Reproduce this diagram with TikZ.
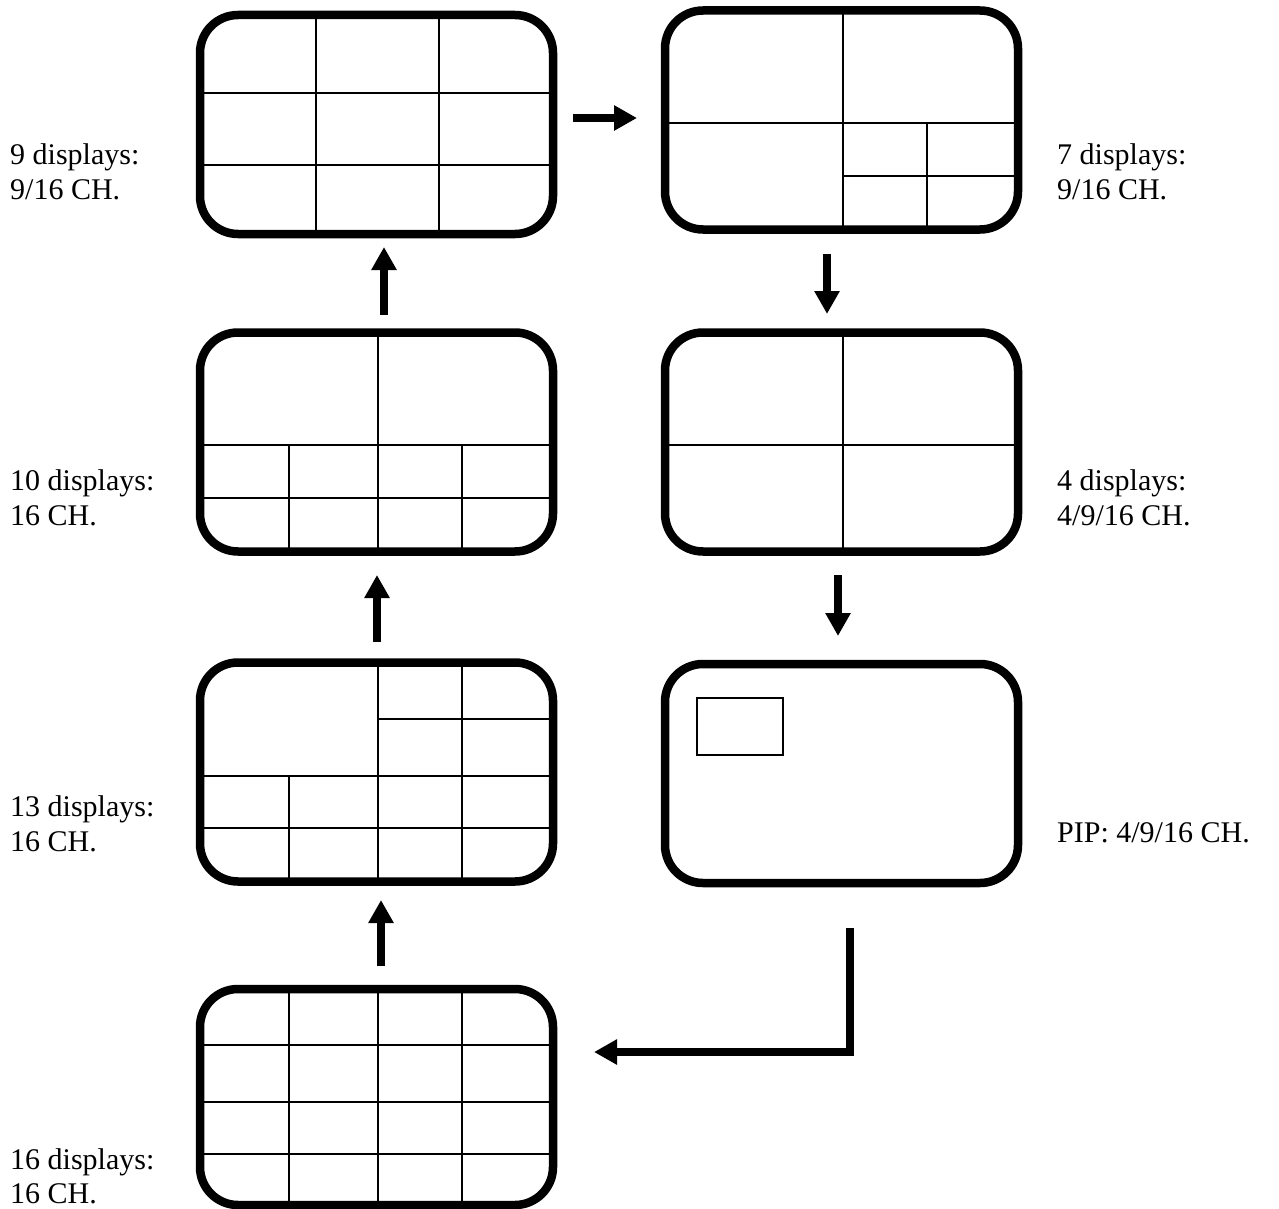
\documentclass[tikz,border=0pt]{standalone}
\usepackage{fontspec}
\setmainfont{Liberation Serif}
\usetikzlibrary{arrows.meta}
\begin{document}
\begin{tikzpicture}[x=1pt,y=-1pt,
  screen/.style={draw, line width=8.5pt, rounded corners=38pt, rectangle, inner sep=0pt,
    minimum width=353pt, minimum height=219pt},
  gridln/.style={line width=2pt},
  arr/.style={line width=8pt, -{Triangle[width=24pt,length=23pt]}},
  lbl/.style={anchor=base west, inner sep=0pt, font=\fontsize{30}{35}\selectfont}
]
\useasboundingbox (0,0) rectangle (1279,1209);

% grid lines
% S1: 9 displays
\draw[gridln] (316,15) -- (316,234) (439,15) -- (439,234) (200,93) -- (553,93) (200,165) -- (553,165);
% S2: 7 displays
\draw[gridln] (843,11) -- (843,229) (665,123) -- (1018,123) (927,123) -- (927,229) (843,176) -- (1018,176);
% S3: 10 displays
\draw[gridln] (378,333) -- (378,551) (200,445) -- (553,445) (200,498) -- (553,498)
  (289,445) -- (289,551) (462,445) -- (462,551);
% S4: 13 displays
\draw[gridln] (378,663) -- (378,881) (462,663) -- (462,881) (378,719) -- (553,719)
  (200,776) -- (553,776) (200,828) -- (553,828) (289,776) -- (289,881);
% S5: 16 displays
\draw[gridln] (289,989) -- (289,1205) (378,989) -- (378,1205) (462,989) -- (462,1205)
  (200,1045) -- (553,1045) (200,1102) -- (553,1102) (200,1154) -- (553,1154);
% S6: 4 displays
\draw[gridln] (843,333) -- (843,551) (665,445) -- (1018,445);
% S7: PIP
\draw[gridln] (697,698) rectangle (783,755);

% screens
\node[screen] (s1) at (376.5,124.5) {};
\node[screen] (s2) at (841.5,120) {};
\node[screen] (s3) at (376.5,442) {};
\node[screen] (s6) at (841.5,442) {};
\node[screen] (s4) at (376.5,772) {};
\node[screen] (s7) at (841.5,773.5) {};
\node[screen, minimum height=216pt] (s5) at (376.5,1097) {};

% arrow end points
\coordinate (a1s) at (573,118);  \coordinate (a1e) at (637,118);
\coordinate (a2s) at (384,315);  \coordinate (a2e) at (384,247);
\coordinate (a3s) at (377,642);  \coordinate (a3e) at (377,575);
\coordinate (a4s) at (381,966);  \coordinate (a4e) at (381,900);
\coordinate (a5s) at (827,254);  \coordinate (a5e) at (827,314);
\coordinate (a6s) at (838,575);  \coordinate (a6e) at (838,636);
\coordinate (l0) at (850,928);   \coordinate (l1) at (850,1052);  \coordinate (l2) at (594,1052);

\draw[arr] (a1s) -- (a1e);
\draw[arr] (a2s) -- (a2e);
\draw[arr] (a3s) -- (a3e);
\draw[arr] (a4s) -- (a4e);
\draw[arr] (a5s) -- (a5e);
\draw[arr] (a6s) -- (a6e);
\draw[arr, line join=miter] (l0) -- (l1) -- (l2);

% labels
\node[lbl] (t1a) at (10,165) {9 displays:};
\node[lbl] (t1b) at (10,200) {9/16 CH.};
\node[lbl] (t3a) at (10,490) {10 displays:};
\node[lbl] (t3b) at (10,525) {16 CH.};
\node[lbl] (t4a) at (10,816) {13 displays:};
\node[lbl] (t4b) at (10,851) {16 CH.};
\node[lbl] (t5a) at (10,1169) {16 displays:};
\node[lbl] (t5b) at (10,1203) {16 CH.};
\node[lbl] (t2a) at (1057,165) {7 displays:};
\node[lbl] (t2b) at (1057,200) {9/16 CH.};
\node[lbl] (t6a) at (1057,490) {4 displays:};
\node[lbl] (t6b) at (1057,525) {4/9/16 CH.};
\node[lbl] (t7) at (1057,842) {PIP: 4/9/16 CH.};
\end{tikzpicture}
\end{document}
